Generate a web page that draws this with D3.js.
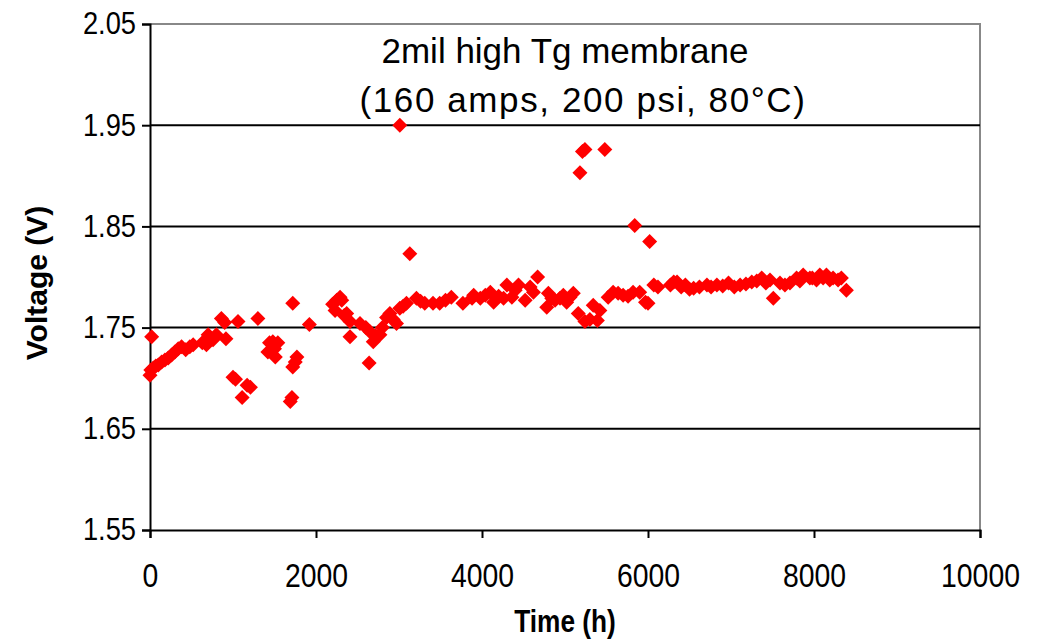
<html>
<head>
<script src="https://d3js.org/d3.v7.min.js"></script>
<style>
  body { margin: 0; background: #fff; }
  text { font-family: Arial, 'Liberation Sans', sans-serif; fill: #000; }
</style>
</head>
<body>
<script>

var width = 1042;
var height = 640;

// readings: hours and cell voltage
var times = [0, 10, 20, 40, 70, 100, 140, 180, 220, 260, 300, 340, 380, 430, 480, 520,
  630, 680, 700, 760, 800, 860, 900, 915, 1000, 1030, 1060, 1110, 1170, 1210,
  1300, 1420, 1440, 1480, 1500, 1510, 1540, 1690, 1710, 1720, 1720, 1750, 1770, 1920,
  2200, 2230, 2250, 2290, 2310, 2340, 2370, 2410, 2410, 2530, 2600, 2640, 2650, 2690,
  2720, 2770, 2800, 2850, 2890, 2930, 2970, 3010, 3010, 3050, 3090, 3130, 3210, 3260,
  3310, 3410, 3490, 3560, 3630, 3770, 3880, 3900, 3980, 4040, 4100, 4140, 4200, 4260,
  4300, 4360, 4400, 4440, 4520, 4580, 4620, 4670, 4780, 4800, 4840, 4880, 4940, 4980,
  5020, 5060, 5100, 5160, 5180, 5210, 5240, 5240, 5300, 5340, 5390, 5420, 5480, 5520,
  5580, 5640, 5700, 5760, 5820, 5840, 5900, 5970, 6000, 6020, 6070, 6120, 6270, 6310,
  6350, 6400, 6450, 6500, 6550, 6620, 6710, 6760, 6830, 6900, 6970, 7040, 7110, 7180,
  7250, 7310, 7370, 7420, 7470, 7510, 7590, 7650, 7710, 7790, 7830, 7870, 7950, 7980,
  8030, 8070, 8110, 8150, 8190, 8230, 8290, 8330, 8390];
var volts = [1.703, 1.708, 1.741, 1.710, 1.712, 1.713, 1.716, 1.718, 1.720, 1.723, 1.726, 1.729, 1.731, 1.728, 1.731, 1.733,
  1.735, 1.733, 1.743, 1.738, 1.743, 1.759, 1.755, 1.739, 1.701, 1.699, 1.756, 1.681, 1.693, 1.691,
  1.759, 1.726, 1.735, 1.736, 1.729, 1.721, 1.735, 1.677, 1.681, 1.774, 1.711, 1.716, 1.721, 1.753,
  1.773, 1.767, 1.777, 1.780, 1.777, 1.762, 1.764, 1.741, 1.756, 1.754, 1.750, 1.715, 1.746, 1.736,
  1.742, 1.743, 1.750, 1.760, 1.764, 1.758, 1.754, 1.769, 1.950, 1.771, 1.774, 1.823, 1.779, 1.776,
  1.774, 1.774, 1.774, 1.777, 1.780, 1.774, 1.779, 1.782, 1.779, 1.782, 1.785, 1.775, 1.781, 1.779,
  1.792, 1.780, 1.787, 1.792, 1.777, 1.790, 1.785, 1.800, 1.770, 1.784, 1.779, 1.777, 1.779, 1.782,
  1.775, 1.780, 1.784, 1.764, 1.903, 1.924, 1.926, 1.756, 1.758, 1.772, 1.757, 1.767, 1.926, 1.780,
  1.785, 1.784, 1.782, 1.781, 1.785, 1.851, 1.785, 1.775, 1.774, 1.835, 1.792, 1.790, 1.792, 1.795,
  1.795, 1.790, 1.792, 1.788, 1.789, 1.790, 1.792, 1.790, 1.792, 1.791, 1.794, 1.790, 1.792, 1.793,
  1.795, 1.796, 1.799, 1.794, 1.797, 1.779, 1.794, 1.792, 1.794, 1.799, 1.796, 1.802, 1.799, 1.799,
  1.797, 1.802, 1.799, 1.802, 1.797, 1.799, 1.797, 1.799, 1.787];

var xTicks = [0, 2000, 4000, 6000, 8000, 10000];
var yTicks = [1.55, 1.65, 1.75, 1.85, 1.95, 2.05];
var titleLines = ['2mil high Tg membrane', '(160 amps, 200 psi, 80\u00B0C)'];

var plotLeft = 150, plotRight = 980, plotTop = 24, plotBottom = 530;

var svg = d3.select('body').append('svg')
  .attr('width', width)
  .attr('height', height);

var x = d3.scaleLinear().domain([0, 10000]).range([plotLeft, plotRight]);
var y = d3.scaleLinear().domain([1.55, 2.05]).range([plotBottom, plotTop]);

// plot frame (top and right in grey)
svg.append('path')
  .attr('d', 'M' + plotLeft + ',' + plotTop + 'H' + plotRight + 'V' + plotBottom)
  .style('fill', 'none')
  .style('stroke', '#888')
  .style('stroke-width', 2);

// gridlines
svg.append('g')
  .selectAll('line')
  .data(yTicks.slice(1, -1))
  .enter()
  .append('line')
  .attr('x1', plotLeft)
  .attr('x2', plotRight)
  .attr('y1', function (d) { return y(d); })
  .attr('y2', function (d) { return y(d); })
  .style('stroke', '#000')
  .style('stroke-width', 2);

var xAxis = svg.append('g')
  .attr('transform', 'translate(0,' + plotBottom + ')')
  .call(d3.axisBottom(x).tickValues(xTicks).tickSize(8).tickPadding(26).tickFormat(d3.format('d')));
var yAxis = svg.append('g')
  .attr('transform', 'translate(' + plotLeft + ',0)')
  .call(d3.axisLeft(y).tickValues(yTicks).tickSize(8).tickPadding(6).tickFormat(d3.format('.2f')));

[xAxis, yAxis].forEach(function (g) {
  g.attr('font-size', null).attr('font-family', null);
  g.select('.domain').style('stroke', '#000').style('stroke-width', 2);
  g.selectAll('.tick line').style('stroke', '#000').style('stroke-width', 2);
  g.selectAll('.tick text').style('fill', '#000');
});
// tick labels in the reference are tall and a little narrow
xAxis.selectAll('.tick text')
  .style('font-size', '33px')
  .attr('transform', 'scale(0.86,1)');
yAxis.selectAll('.tick text')
  .style('font-size', '31px')
  .attr('x', -14 / 0.88)
  .attr('transform', 'scale(0.88,1)');

// markers
var points = times.map(function (t, i) { return [t, volts[i]]; });
svg.append('g')
  .selectAll('path')
  .data(points)
  .enter()
  .append('path')
  .attr('d', 'M0,-7.5L7.5,0L0,7.5L-7.5,0Z')
  .attr('transform', function (d) { return 'translate(' + x(d[0]) + ',' + y(d[1]) + ')'; })
  .style('fill', '#ff0000');

// axis titles
svg.append('text')
  .attr('transform', 'translate(565,632) scale(0.82,1)')
  .attr('text-anchor', 'middle')
  .style('font-size', '32px')
  .style('font-weight', 'bold')
  .text('Time (h)');

svg.append('text')
  .attr('transform', 'translate(47,283) rotate(-90)')
  .attr('text-anchor', 'middle')
  .style('font-size', '30px')
  .style('font-weight', 'bold')
  .text('Voltage (V)');

// title inside plot
svg.append('g')
  .selectAll('text')
  .data(titleLines)
  .enter()
  .append('text')
  .attr('x', function (d, i) { return i ? 583 : 565; })
  .attr('y', function (d, i) { return 63 + i * 49; })
  .attr('text-anchor', 'middle')
  .style('font-size', '35px')
  .style('letter-spacing', function (d, i) { return i ? '1.6px' : null; })
  .text(function (d) { return d; });

</script>
</body>
</html>
